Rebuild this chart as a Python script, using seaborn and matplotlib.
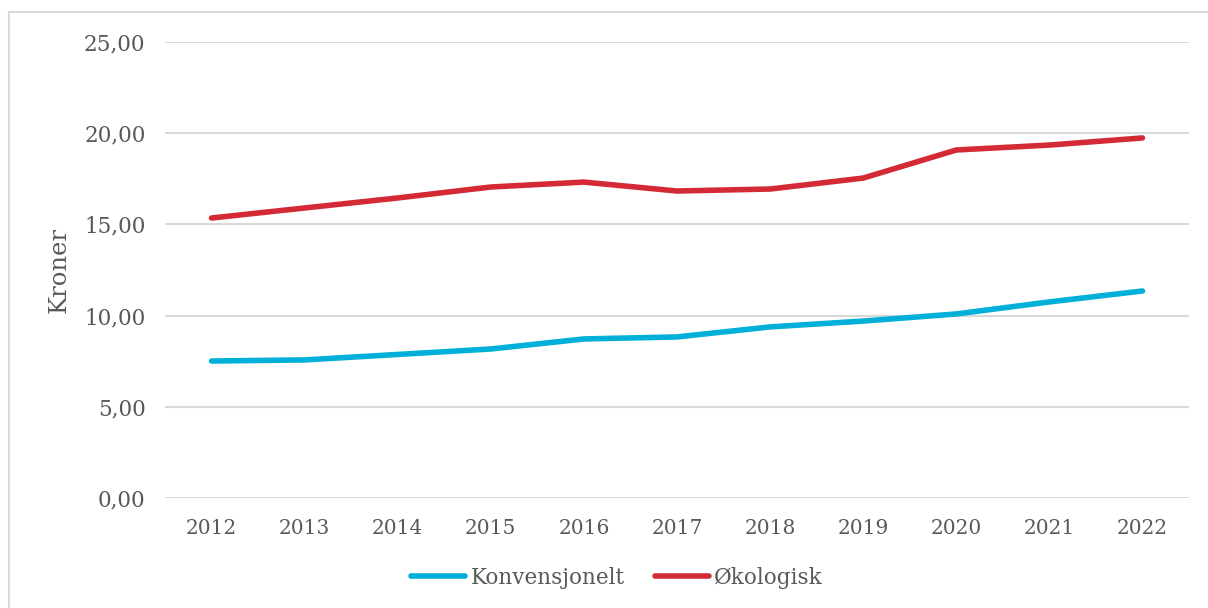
import pandas as pd
import matplotlib.pyplot as plt
import seaborn as sns
from matplotlib.lines import Line2D

# Values
years = ['2012', '2013', '2014', '2015', '2016', '2017', '2018', '2019', '2020', '2021', '2022']
konvensjonelt = [7.51, 7.57, 7.87, 8.17, 8.72, 8.83, 9.38, 9.70, 10.09, 10.75, 11.35]
okologisk = [15.35, 15.90, 16.45, 17.05, 17.32, 16.83, 16.94, 17.54, 19.08, 19.35, 19.74]
series_names = ['Konvensjonelt', 'Økologisk']
y_ticks = [0, 5, 10, 15, 20, 25]

df = pd.DataFrame({
    'year': years * 2,
    'value': konvensjonelt + okologisk,
    'serie': [series_names[0]] * len(years) + [series_names[1]] * len(years),
})

sns.set_style('white')
plt.rcParams['font.family'] = ['DejaVu Serif']
text_color = '#595959'
grid_color = '#D9D9D9'

fig = plt.figure(figsize=(12.08, 6.08), dpi=100)
ax = fig.add_axes([165 / 1208, 110 / 608, 1024 / 1208, 456 / 608])

sns.lineplot(
    data=df, x='year', y='value', hue='serie',
    palette={series_names[0]: '#00B0D8', series_names[1]: '#D42A35'},
    linewidth=4, solid_capstyle='round', ax=ax, legend=False, sort=False
)

ax.set_xlim(-0.5, len(years) - 0.5)
ax.set_ylim(0, 25)
ax.set_yticks(y_ticks)
ax.set_yticklabels([f'{v:.2f}'.replace('.', ',') for v in y_ticks])
for y in y_ticks:
    ax.axhline(y, color=grid_color, linewidth=1.5, zorder=0)
for s in ax.spines.values():
    s.set_visible(False)
ax.tick_params(axis='both', length=0, labelcolor=text_color)
ax.tick_params(axis='y', pad=14, labelsize=15.5)
ax.tick_params(axis='x', pad=15, labelsize=14.5)
ax.set_xlabel('')
ax.set_ylabel('Kroner', fontsize=17.5, color=text_color, labelpad=10)

handles = [Line2D([0], [0], color='#00B0D8', lw=4, solid_capstyle='round'),
           Line2D([0], [0], color='#D42A35', lw=4, solid_capstyle='round')]
fig.legend(handles, series_names, loc='center', bbox_to_anchor=(617 / 1208, 1 - 578 / 608),
           ncol=2, frameon=False, fontsize=15.5, labelcolor=text_color,
           handlelength=2.5, handletextpad=0.25, columnspacing=1.4)

# light frame around the chart
fig.add_artist(Line2D([9 / 1208, 9 / 1208], [0, 1 - 12 / 608], color=grid_color, lw=1.5))
fig.add_artist(Line2D([9 / 1208, 1], [1 - 12 / 608, 1 - 12 / 608], color=grid_color, lw=1.5))

fig.savefig('out.png', dpi=100)
